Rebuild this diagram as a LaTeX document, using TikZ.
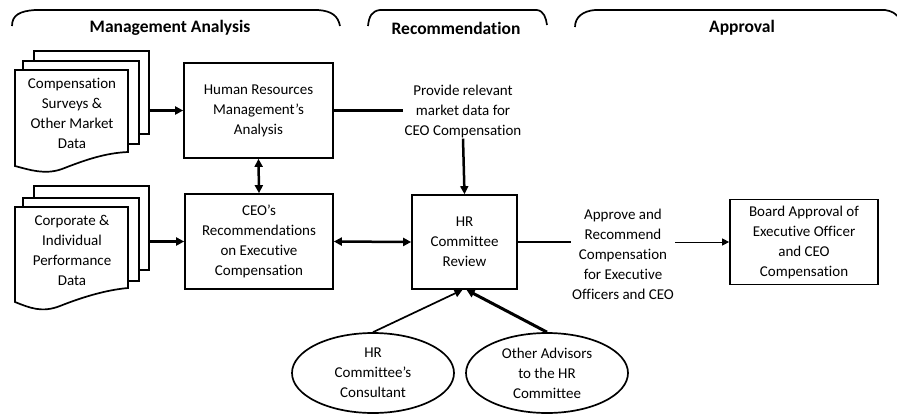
\documentclass[tikz,border=0pt]{standalone}
\usepackage{fontspec}
\setmainfont[Ligatures=NoCommon]{Carlito}
\usetikzlibrary{arrows.meta,shapes.geometric,calc}
\begin{document}
\begin{tikzpicture}[x=1pt,y=-1pt,
  txt/.style={font=\fontsize{15}{20}\selectfont},
  box/.style={draw,line width=1.7pt,align=center,txt,inner sep=0pt},
  sheet/.style={draw,fill=white,line width=1.7pt,anchor=north west,inner sep=0pt},
  lbl/.style={align=center,txt,inner sep=1pt},
  ttl/.style={font=\fontsize{17.5}{20}\selectfont\bfseries},
  oval/.style={draw,ellipse,line width=1.7pt,align=center,txt,minimum width=162pt,minimum height=80pt,inner sep=0pt},
  brk/.style={line width=1.7pt},
  tip/.tip={Triangle[length=8pt,width=8pt]},
  arr/.style={line width=2.5pt,-tip},
  darr/.style={line width=2.5pt,tip-tip},
  thin/.style={line width=1pt,-{Triangle[length=7pt,width=7pt]}}
]
\useasboundingbox (0,0) rectangle (897,413);

% phase brackets
\draw[brk] (12,26) .. controls (12,15) and (20,11) .. (35,10) -- (318,10) .. controls (332,11) and (338,16) .. (340,26);
\draw[brk] (368,26) .. controls (369,16) and (372,11) .. (380,10) -- (537,10) .. controls (544,11) and (546,18) .. (547,25);
\draw[brk] (575,27) .. controls (575,17) and (583,11) .. (595,10) -- (885,10) .. controls (892,11) and (896,14) .. (897,16);
\node[ttl] (ma) at (170,28) {Management Analysis};
\node[ttl] (rc) at (456,28) {Recommendation};
\node[ttl] (ap) at (742,28) {Approval};

% document stack 1
\node[sheet,minimum width=115pt,minimum height=83pt] (s1c) at (33,50) {};
\node[sheet,minimum width=116pt,minimum height=83pt] (s1b) at (22,60) {};
\draw[fill=white,line width=1.7pt] (15,70) -- (128,70) -- (128,152) .. controls (105,153) and (85,160) .. (62,169) .. controls (45,175) and (30,170) .. (15,166) -- cycle;
\node[lbl] (doc1) at (72,113) {Compensation\\Surveys \&\\Other Market\\Data};

% document stack 2
\node[sheet,minimum width=115pt,minimum height=84pt] (s2c) at (33,185) {};
\node[sheet,minimum width=116pt,minimum height=83pt] (s2b) at (22,197) {};
\draw[fill=white,line width=1.7pt] (15,207) -- (128,207) -- (128,288) .. controls (105,290) and (80,298) .. (60,306) .. controls (42,313) and (30,308) .. (15,302) -- cycle;
\node[lbl] (doc2) at (72,250) {Corporate \&\\Individual\\Performance\\Data};

% boxes
\node[box,minimum width=149pt,minimum height=95pt] (hrm) at (258.5,110.5) {Human Resources\\Management’s\\Analysis};
\node[box,minimum width=148pt,minimum height=95pt] (ceo) at (259,241.5) {CEO’s\\Recommendations\\on Executive\\Compensation};
\node[box,minimum width=105pt,minimum height=94pt] (rev) at (464.5,242) {HR\\Committee\\Review};
\node[box,minimum width=148pt,minimum height=85pt] (board) at (804,242) {Board Approval of\\Executive Officer\\and CEO\\Compensation};

% labels
\node[lbl] (prov) at (463,111) {Provide relevant\\market data for\\CEO Compensation};
\node[lbl] (appr) at (623,254) {Approve and\\Recommend\\Compensation\\for Executive\\Officers and CEO};

% ovals
\node[oval] (cons) at (373,373) {HR\\Committee’s\\Consultant};
\node[oval] (adv) at (547,373) {Other Advisors\\to the HR\\Committee};

% connectors
\draw[arr] (s1c.east |- hrm.west) -- (hrm.west);
\draw[arr] (s2c.east |- ceo.west) -- (ceo.west);
\draw[darr] (hrm.south) -- (ceo.north);
\draw[darr] (ceo.east) -- (rev.west);
\draw[line width=2.5pt] (hrm.east) -- (prov.west |- hrm.east);
\draw[arr] (prov.south) -- (rev.north);
\draw[line width=2.5pt] (rev.east) -- (rev.east -| appr.west);
\draw[thin] (rev.east -| appr.east) -- (board.west);
\draw[line width=1.7pt,-tip] (cons.north) -- ($(rev.south)+(-2,0)$);
\draw[line width=3pt,-tip] (adv.north) -- ($(rev.south)+(2,0)$);
\end{tikzpicture}
\end{document}
